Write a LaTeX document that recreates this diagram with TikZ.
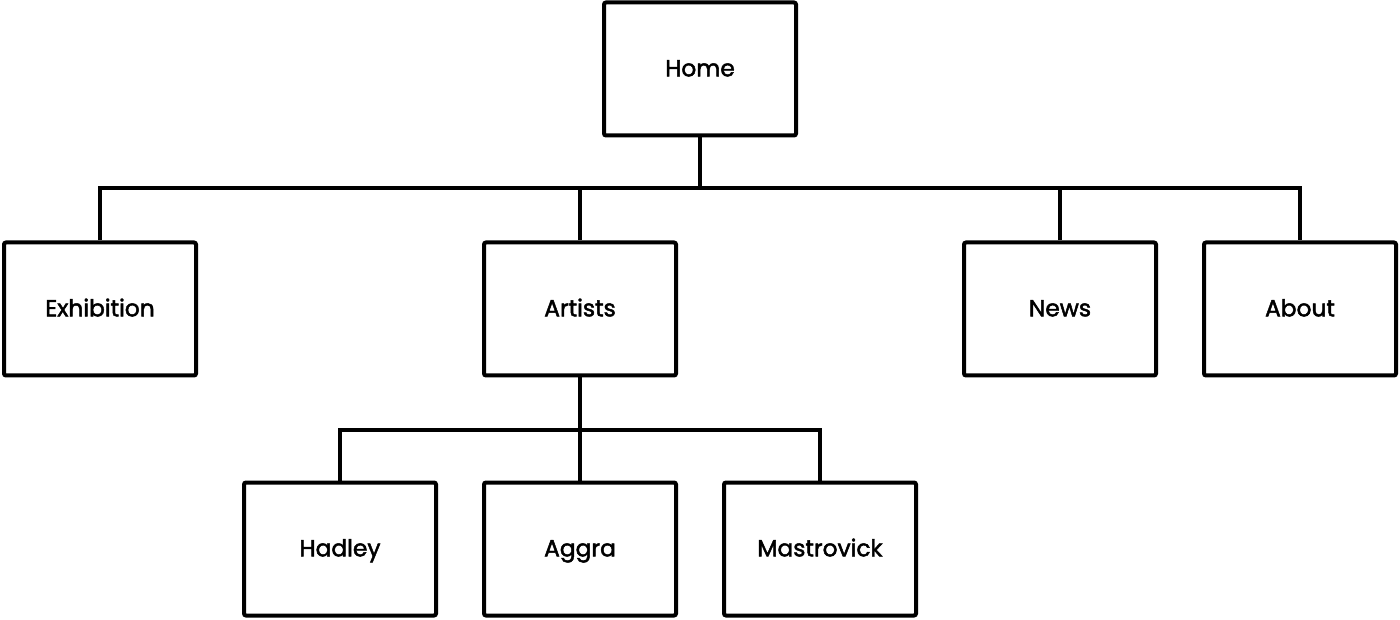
\documentclass[tikz,border=0pt]{standalone}
\usepackage{fontspec}
\setmainfont{Poppins}[FakeBold=2]
\begin{document}
\begin{tikzpicture}[x=0.75pt,y=-0.75pt,
  page/.style={draw=black,line width=3pt,rounded corners=1.5pt,fill=white,
    minimum width=192*0.75pt,minimum height=133*0.75pt,inner sep=0pt,
    text height=14pt,text depth=3pt,
    font=\fontsize{17.5pt}{19pt}\selectfont},
  link/.style={draw=black,line width=2.3pt}]
\useasboundingbox[fill=white] (0,0) rectangle (1400,620);
\node[page] (home) at (700,69) {Home};
\node[page] (exh) at (100,309) {Exhibition};
\node[page] (art) at (580,309) {Artists};
\node[page] (news) at (1060,309) {News};
\node[page] (about) at (1300,309) {About};
\node[page] (had) at (340,549) {Hadley};
\node[page] (agg) at (580,549) {Aggra};
\node[page] (mas) at (820,549) {Mastrovick};
\coordinate (busA) at (0,188);
\coordinate (busB) at (0,430);
\draw[link] (home.south) -- (home.south |- busA);
\draw[link] (exh.north) -- (exh.north |- busA) -- (about.north |- busA) -- (about.north);
\draw[link] (art.north) -- (art.north |- busA);
\draw[link] (news.north) -- (news.north |- busA);
\draw[link] (art.south) -- (art.south |- busB);
\draw[link] (had.north) -- (had.north |- busB) -- (mas.north |- busB) -- (mas.north);
\draw[link] (agg.north) -- (agg.north |- busB);
\end{tikzpicture}
\end{document}
